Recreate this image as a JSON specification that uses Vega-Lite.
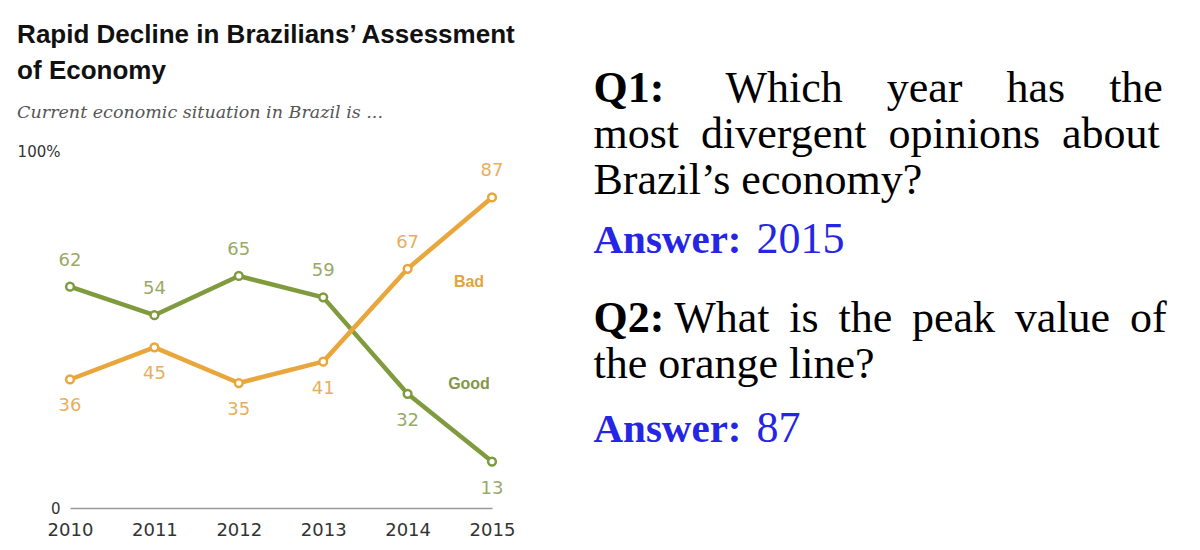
{
  "$schema": "https://vega.github.io/schema/vega-lite/v6.json",
  "background": "white",
  "padding": {"left": 17, "top": 21, "right": 10, "bottom": 5},
  "autosize": {"type": "pad"},
  "config": {"view": {"stroke": null}},
  "spacing": 75,
  "datasets": {
    "economy": [
      {"year": 2010, "opinion": "Good", "value": 62},
      {"year": 2011, "opinion": "Good", "value": 54},
      {"year": 2012, "opinion": "Good", "value": 65},
      {"year": 2013, "opinion": "Good", "value": 59},
      {"year": 2014, "opinion": "Good", "value": 32},
      {"year": 2015, "opinion": "Good", "value": 13},
      {"year": 2010, "opinion": "Bad", "value": 36},
      {"year": 2011, "opinion": "Bad", "value": 45},
      {"year": 2012, "opinion": "Bad", "value": 35},
      {"year": 2013, "opinion": "Bad", "value": 41},
      {"year": 2014, "opinion": "Bad", "value": 67},
      {"year": 2015, "opinion": "Bad", "value": 87}
    ],
    "qa": [
      {"pair": 1, "label": "Q1:", "question": ["\u200b\u2003\u2003\u2003Which\u2003year\u2003has\u2003the", "most\u2002divergent\u2002opinions\u2002about", "Brazil\u2019s economy?"], "answerLabel": ["\u200b", "\u200b", "Answer:"], "answer": ["\u200b", "\u200b", "2015"]},
      {"pair": 2, "label": "Q2:", "question": ["\u200b\u2003\u2002\u2004What \u2009is \u2009the \u2009peak \u2009value \u2009of", "the orange line?"], "answerLabel": ["\u200b", "Answer:"], "answer": ["\u200b", "87"]}
    ]
  },
  "hconcat": [
    {
      "width": 422,
      "height": 357,
      "title": {
        "text": ["Rapid Decline in Brazilians\u2019 Assessment", "of Economy"],
        "subtitle": "Current economic situation in Brazil is ...",
        "anchor": "start",
        "frame": "bounds",
        "font": "Liberation Sans",
        "fontSize": 26,
        "fontWeight": "bold",
        "color": "#111111",
        "lineHeight": 36,
        "subtitleFont": "DejaVu Serif",
        "subtitleFontStyle": "italic",
        "subtitleFontSize": 17.5,
        "subtitleColor": "#555555",
        "subtitlePadding": 20,
        "offset": 23
      },
      "data": {"name": "economy"},
      "encoding": {
        "x": {
          "field": "year",
          "type": "quantitative",
          "scale": {"domain": [2010, 2015]},
          "axis": {
            "values": [2010, 2011, 2012, 2013, 2014, 2015],
            "format": "d",
            "title": null,
            "grid": false,
            "ticks": false,
            "domainColor": "#9a9a9a",
            "domainWidth": 1.5,
            "labelFont": "DejaVu Sans",
            "labelFontSize": 18,
            "labelColor": "#333333",
            "labelPadding": 13,
            "labelFlush": false
          }
        },
        "y": {
          "field": "value",
          "type": "quantitative",
          "scale": {"domain": [0, 100]},
          "axis": {
            "values": [0, 100],
            "labelExpr": "datum.value == 100 ? '100%' : '0'",
            "title": null,
            "grid": false,
            "ticks": false,
            "domain": false,
            "labelFont": "DejaVu Sans",
            "labelFontSize": 15,
            "labelColor": "#333333",
            "labelPadding": 10,
            "labelFlush": false
          }
        }
      },
      "layer": [
        {
          "mark": {"type": "line", "strokeWidth": 4.5, "strokeJoin": "round"},
          "encoding": {
            "stroke": {"field": "opinion", "type": "nominal", "scale": {"domain": ["Good", "Bad"], "range": ["#7f9b3d", "#e8a63b"]}, "legend": null}
          }
        },
        {
          "mark": {"type": "point", "shape": "circle", "filled": true, "fill": "white", "size": 60, "strokeWidth": 2.5, "opacity": 1},
          "encoding": {
            "stroke": {"field": "opinion", "type": "nominal", "legend": null}
          }
        },
        {
          "transform": [
            {"joinaggregate": [{"op": "max", "field": "value", "as": "yearMax"}], "groupby": ["year"]},
            {"filter": "datum.value == datum.yearMax"}
          ],
          "mark": {"type": "text", "dy": -26, "font": "DejaVu Sans", "fontSize": 18},
          "encoding": {
            "text": {"field": "value", "type": "quantitative"},
            "fill": {"field": "opinion", "type": "nominal", "scale": {"domain": ["Good", "Bad"], "range": ["#98ab66", "#e9ae5c"]}, "legend": null}
          }
        },
        {
          "transform": [
            {"joinaggregate": [{"op": "max", "field": "value", "as": "yearMax"}], "groupby": ["year"]},
            {"filter": "datum.value != datum.yearMax"}
          ],
          "mark": {"type": "text", "dy": 27, "font": "DejaVu Sans", "fontSize": 18},
          "encoding": {
            "text": {"field": "value", "type": "quantitative"},
            "fill": {"field": "opinion", "type": "nominal", "legend": null}
          }
        },
        {
          "transform": [
            {"joinaggregate": [{"op": "max", "field": "year", "as": "lastYear"}]},
            {"filter": "datum.year == datum.lastYear && datum.opinion == 'Bad'"}
          ],
          "mark": {"type": "text", "dx": -23, "dy": 85, "font": "Liberation Sans", "fontSize": 16, "fontWeight": "bold", "fill": "#e3a43d"},
          "encoding": {"text": {"field": "opinion", "type": "nominal"}}
        },
        {
          "transform": [
            {"joinaggregate": [{"op": "max", "field": "year", "as": "lastYear"}]},
            {"filter": "datum.year == datum.lastYear && datum.opinion == 'Good'"}
          ],
          "mark": {"type": "text", "dx": -23, "dy": -78, "font": "Liberation Sans", "fontSize": 16, "fontWeight": "bold", "fill": "#85964a"},
          "encoding": {"text": {"field": "opinion", "type": "nominal"}}
        }
      ]
    },
    {
      "width": 1,
      "height": 230,
      "data": {"name": "qa"},
      "encoding": {
        "y": {"field": "pair", "type": "ordinal", "scale": {"type": "point", "padding": 0}, "axis": null}
      },
      "layer": [
        {
          "mark": {"type": "text", "align": "left", "baseline": "alphabetic", "dy": -49.5, "font": "Liberation Serif", "fontSize": 44, "fontWeight": "bold", "fill": "#000000"},
          "encoding": {"text": {"field": "label", "type": "nominal"}}
        },
        {
          "mark": {"type": "text", "align": "left", "baseline": "alphabetic", "dy": -49.5, "font": "Liberation Serif", "fontSize": 44, "lineHeight": 46, "fontWeight": "normal", "fill": "#000000"},
          "encoding": {"text": {"field": "question", "type": "nominal"}}
        },
        {
          "mark": {"type": "text", "align": "left", "baseline": "alphabetic", "dy": 19.5, "font": "Liberation Serif", "fontSize": 41, "lineHeight": 41, "fontWeight": "bold", "fill": "#2525e6"},
          "encoding": {"text": {"field": "answerLabel", "type": "nominal"}}
        },
        {
          "mark": {"type": "text", "align": "left", "baseline": "alphabetic", "dx": 163, "dy": 19.5, "font": "Liberation Serif", "fontSize": 44, "lineHeight": 41, "fontWeight": "normal", "fill": "#2525e6"},
          "encoding": {"text": {"field": "answer", "type": "nominal"}}
        }
      ]
    }
  ]
}
